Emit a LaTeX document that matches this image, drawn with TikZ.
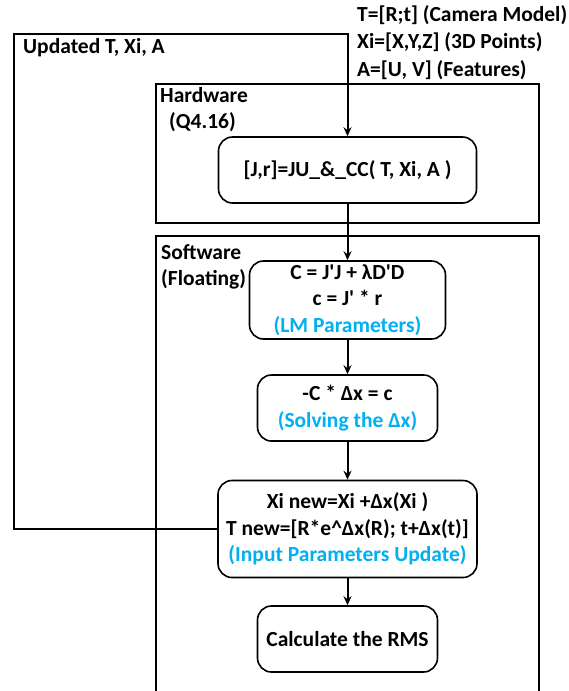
\documentclass[tikz,border=0pt]{standalone}
\usepackage{fontspec}
\setmainfont{Carlito}
\usetikzlibrary{arrows.meta, positioning, calc}
\definecolor{LabelBlue}{HTML}{00B0F0}

\begin{document}
\begin{tikzpicture}[
    x=1pt, y=-1pt,
    every node/.style={font=\fontsize{21.5}{26.5}\selectfont\bfseries},
    stage/.style={
        rectangle, rounded corners=14pt, draw=black, fill=white,
        line width=1.6pt, align=center, inner sep=0pt
    },
    container/.style={
        draw=black, line width=2.4pt
    },
    arrow/.style={
        -{Stealth[length=9pt, width=8pt]}, line width=2pt, color=black
    },
    note/.style={align=left, inner sep=0pt}
]
    \useasboundingbox (0,0) rectangle (569,691);

    % Containers
    \draw[container] (156,84) rectangle (539,223);
    \draw[container] (156,236) rectangle (539,700);
    \node[note, anchor=north west] (hwlabel) at (160,87) {Hardware\\\hspace{9pt}(Q4.16)};
    \node[note, anchor=north west] (swlabel) at (161,244) {Software\\(Floating)};

    % Stages
    \node[stage, minimum width=258pt, minimum height=66pt] (jac) at (347.5,170) {[J,r]=JU\_\&\_CC( T, Xi, A )};
    \node[stage, minimum width=196pt, minimum height=78pt] (lm) at (347.5,300)
        {C = J\textquotesingle J + λD\textquotesingle D\\c = J\textquotesingle{} * r\\\textcolor{LabelBlue}{(LM Parameters)}};
    \node[stage, minimum width=180pt, minimum height=66pt] (solve) at (347.5,408)
        {-C * Δx = c\\\textcolor{LabelBlue}{(Solving the Δx)}};
    \node[stage, minimum width=259pt, minimum height=97pt] (upd) at (347.5,529)
        {Xi new=Xi +Δx(Xi )\\T new=[R*e\^{}Δx(R); t+Δx(t)]\\\textcolor{LabelBlue}{(Input Parameters Update)}};
    \node[stage, minimum width=180pt, minimum height=66pt] (rms) at (347.5,639) {Calculate the RMS};

    % Inputs and feedback
    \node[note, anchor=north west, font=\fontsize{21.5}{27.5}\selectfont\bfseries] (inputs) at (357,5)
        {T=[R;t] (Camera Model)\\Xi=[X,Y,Z] (3D Points)\\A=[U, V] (Features)};
    \node[note, anchor=west] (fblabel) at (23,48) {Updated T, Xi, A};
    \coordinate (loopTL) at (14,34);

    % Links
    \draw[arrow] (upd.west) -| (loopTL) -| (jac.north);
    \draw[arrow] (jac) -- (lm);
    \draw[arrow] (lm) -- (solve);
    \draw[arrow] (solve) -- (upd);
    \draw[arrow] (upd) -- (rms);

\end{tikzpicture}
\end{document}
